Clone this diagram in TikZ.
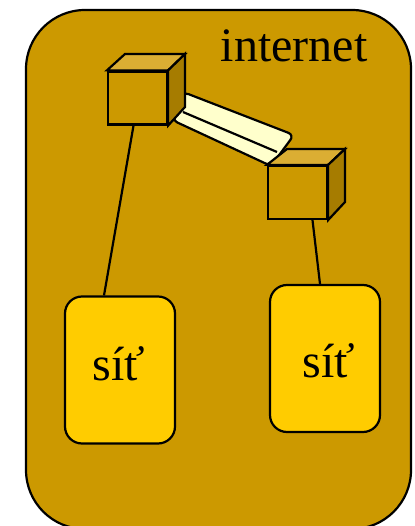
\documentclass[tikz,border=0pt]{standalone}
\usepackage{fontspec}
\setmainfont{Liberation Serif}
\definecolor{cloudgold}{HTML}{CC9900}
\definecolor{netgold}{HTML}{FFCC00}
\definecolor{boxtop}{HTML}{DBAE33}
\definecolor{boxside}{HTML}{A67C00}
\definecolor{tubefill}{HTML}{FFFFCC}
\begin{document}
\begin{tikzpicture}[x=1pt,y=-1pt,
	boxline/.style={draw=black,line width=2.2pt,line join=miter},
	routerface/.style={boxline,fill=cloudgold,minimum width=59pt,minimum height=53pt,inner sep=0pt},
	netbox/.style={draw=black,line width=2.2pt,rounded corners=17pt,fill=netgold,minimum width=110pt,minimum height=147pt,inner sep=0pt},
	biglabel/.style={font=\fontsize{48}{50}\selectfont,anchor=base,inner sep=0pt},
	wire/.style={draw=black,line width=2.2pt}]
	\useasboundingbox (0,0) rectangle (414,526);
	\draw[boxline,fill=cloudgold,rounded corners=59pt] (26,10) rectangle (411,529);
	\node[biglabel] (title) at (294,62) {internet};
	% tube
	\draw[boxline,fill=tubefill,rounded corners=6pt] (183,92) -- (294,135) -- (271,166) -- (172,120) -- cycle;
	\draw[boxline] (183,112) -- (277,152);
	% routers
	\node[routerface] (routerA) at (137.5,98) {};
	\draw[boxline,fill=boxtop] (routerA.north west) -- (125,54) -- (185,54) -- (routerA.north east) -- cycle;
	\draw[boxline,fill=boxside] (routerA.north east) -- (185,54) -- (185,107) -- (routerA.south east) -- cycle;
	\node[routerface] (routerB) at (297.5,192.5) {};
	\draw[boxline,fill=boxtop] (routerB.north west) -- (287,149) -- (345,149) -- (routerB.north east) -- cycle;
	\draw[boxline,fill=boxside] (routerB.north east) -- (345,149) -- (345,202) -- (routerB.south east) -- cycle;
	% networks
	\node[netbox] (netA) at (120,370) {};
	\node[netbox] (netB) at (325,358.5) {};
	\node[biglabel] (labelA) at (119,380) {síť};
	\node[biglabel] (labelB) at (329,377) {síť};
	\draw[wire] ([xshift=-4pt]routerA.south) -- ([xshift=-16pt]netA.north);
	\draw[wire] ([xshift=15pt]routerB.south) -- ([xshift=-5pt]netB.north);
\end{tikzpicture}
\end{document}
